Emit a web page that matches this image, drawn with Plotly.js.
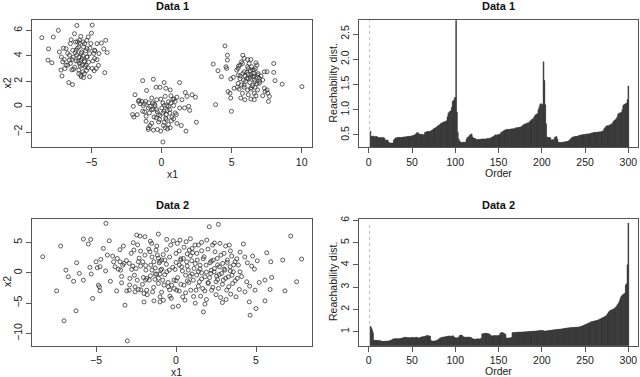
<!DOCTYPE html>
<html>
<head>
<meta charset="utf-8">
<script src="https://cdn.plot.ly/plotly-3.0.1.min.js"></script>
<style>
  html, body { margin: 0; padding: 0; background: #fff; }
  #chart { width: 640px; height: 377px; }
</style>
</head>
<body>
<div id="chart"></div>
<script>
// Data 1: three blobs (x1, x2)
var d1x = [
  // left blob
  -8.54,-7.72,-7.36,-8.06,-8.10,-7.82,-6.04,-4.94,-5.00,-5.23,-4.29,-3.98,-4.12,-3.88,-4.46,-4.50,-4.05,-7.17,-7.10,-6.62,
  -6.35,-5.73,-5.13,-5.90,-7.29,-7.15,-6.81,-6.50,-6.21,-5.85,-5.76,-5.49,-5.32,-5.13,-4.84,-4.77,-6.09,-6.04,-5.95,-5.85,
  -6.57,-6.38,-6.81,-6.69,-6.28,-5.61,-4.94,-4.80,-5.37,-5.66,-5.49,-5.32,-5.73,-5.56,-5.90,-6.33,-6.93,-7.05,-5.76,-5.56,
  -4.75,-5.04,-4.60,-5.32,-6.45,-5.85,-4.77,-4.65,-5.25,-6.57,-6.14,-5.66,
  -5.60,-5.90,-6.10,-5.50,-5.70,-6.30,-5.30,-5.80,-6.00,-5.40,-6.50,-5.20,-6.20,-5.90,-5.50,-6.70,-4.90,-5.10,-6.40,-5.60,
  -6.00,-4.60,-7.00,-6.90,-5.45,-5.75,-6.15,-5.35,
  // middle blob
  -1.34,-0.58,0.19,1.29,-1.89,-1.06,-0.38,-0.10,0.31,0.62,1.70,2.18,2.42,1.82,1.10,0.82,1.46,-2.01,-2.06,-1.97,
  -1.73,-1.41,-1.29,-1.34,-1.10,-0.86,-0.94,-0.62,-0.46,-0.34,-0.22,-0.53,0.02,0.19,0.34,0.58,0.86,0.98,1.06,0.74,
  0.38,0.10,-0.05,-0.34,-0.70,1.94,2.01,1.65,2.49,1.41,1.75,-0.82,-0.94,-0.94,-0.58,-0.29,-0.05,0.10,0.14,0.26,
  0.43,0.62,0.50,1.10,0.34,-0.14,-0.38,-1.10,0.19,0.86,-1.65,-1.53,-1.22,-1.13,-0.82,-0.70,0.50,0.67,0.98,0.26,
  0.67,
  -0.30,0.10,0.40,-0.60,0.20,-0.10,0.60,-0.90,0.50,-0.20,0.70,-1.20,1.30,-1.60,0.30,-0.50,0.90,-0.70,
  // right blob
  4.53,4.70,4.70,3.69,4.03,4.27,4.60,4.65,3.86,4.99,4.94,4.75,4.89,5.18,4.94,5.13,5.37,5.47,5.71,5.80,
  5.61,6.14,6.38,6.26,6.74,6.81,6.14,5.90,6.33,6.57,6.86,7.10,7.34,7.53,8.01,8.01,8.10,8.61,10.02,7.58,
  7.70,7.22,7.34,7.53,7.63,6.62,6.38,6.19,5.95,5.66,5.47,5.71,5.90,6.14,6.38,6.50,6.67,6.86,6.98,7.22,
  6.62,6.33,6.09,5.85,5.61,5.95,6.19,6.50,6.67,5.42,5.54,5.78,6.62,6.74,6.86,6.98,6.43,6.62,5.78,5.47,
  6.20,6.40,6.00,6.60,5.80,6.30,6.90,5.90,6.50,6.10,6.80,5.60,6.40,7.00,5.50,6.20,6.70,5.90,7.40
];
var d1y = [
  5.43,5.48,6.00,4.55,3.66,3.45,6.39,6.42,5.79,5.48,5.01,5.22,4.55,4.26,4.18,3.25,2.68,2.88,2.42,1.90,
  1.74,2.36,2.36,2.88,4.31,3.92,4.57,4.96,5.74,5.22,5.53,4.96,4.57,4.18,4.18,4.44,4.44,4.05,3.58,3.40,
  3.66,3.71,3.27,3.27,2.94,2.75,3.01,2.83,3.27,3.79,3.53,3.92,4.18,4.70,4.70,4.44,3.71,3.53,2.49,2.29,
  4.39,4.96,4.96,5.22,5.27,5.01,3.79,3.01,3.06,4.05,5.09,3.27,
  4.00,3.90,3.60,3.60,4.30,3.90,3.90,3.20,4.60,4.40,3.40,3.50,3.10,2.60,2.60,4.20,3.60,4.60,2.90,5.10,
  5.10,3.70,4.60,3.00,3.15,3.65,4.25,2.85,
  2.05,2.16,1.90,1.90,0.94,1.27,1.53,1.53,1.45,1.32,1.12,0.94,0.75,0.81,0.75,0.60,0.55,0.03,-0.62,-0.81,
  -0.62,0.42,0.08,-0.36,-0.75,-0.49,-0.10,0.29,0.08,-0.23,-0.62,-0.81,-0.10,-0.36,-0.62,-0.23,0.08,-0.49,-0.62,-0.81,
  0.08,0.29,0.60,0.55,0.68,0.03,-0.29,-0.10,-1.22,-1.48,-1.92,-1.48,-1.66,-1.79,-1.84,-1.79,-1.92,-2.78,-1.48,-1.66,
  -1.74,-1.66,-1.40,-1.32,-1.01,-1.01,-0.88,-1.14,-1.22,-0.96,0.42,0.23,0.23,0.42,0.03,-0.23,0.03,0.29,0.42,0.81,
  0.86,
  -0.40,-0.50,-0.30,-0.20,0.10,-0.70,-0.50,0.30,0.40,-1.20,-1.10,-0.40,-0.10,0.50,-0.90,0.20,0.60,-1.30,
  4.78,4.05,3.66,3.35,2.83,2.36,3.14,3.01,0.16,-0.36,0.68,1.19,1.06,1.45,2.18,2.31,2.88,3.01,3.53,4.05,
  3.27,3.71,3.71,3.40,3.45,3.27,3.14,2.75,2.83,2.62,2.49,2.42,2.75,2.75,3.40,2.70,2.05,1.77,1.58,1.06,
  0.81,0.86,1.45,1.32,0.42,0.55,0.60,0.94,0.55,0.68,1.84,1.71,1.53,1.32,1.38,1.64,1.53,1.32,1.84,2.10,
  2.10,2.31,2.23,2.10,2.42,2.42,2.57,2.36,1.97,1.53,1.38,1.06,1.06,0.86,2.31,2.23,3.14,2.88,3.40,2.49,
  2.20,2.50,2.00,2.40,2.60,1.90,2.60,1.70,2.90,2.70,1.80,2.20,1.50,2.00,3.20,3.00,3.00,3.80,1.20
];

// Data 2: one wide cloud
var d2x = [
  -8.33,-7.21,-7.46,-7.00,-6.88,-6.73,-6.21,-6.04,-6.25,-5.79,-5.48,-5.33,-5.79,-5.38,-5.21,-5.00,-4.92,-4.75,-4.79,-4.85,
  -4.75,-4.54,-4.38,-4.29,-4.17,-3.96,-3.81,-3.67,-3.71,-3.50,-3.33,-3.46,-3.40,-3.29,-3.25,-3.19,-3.08,-3.04,-2.92,-2.88,
  -2.92,-2.77,-2.67,-2.63,-2.56,-2.56,-2.50,-2.46,-2.42,-2.35,-2.35,-2.25,-2.21,-2.21,-2.08,-2.04,-2.00,-1.94,-1.94,-1.88,
  -1.83,-1.83,-1.67,-1.63,-1.58,-1.52,-1.50,-1.46,-1.38,-1.38,-1.31,-1.25,-1.21,-1.17,-1.10,-1.10,-1.04,-1.00,-1.00,-0.96,
  -0.90,-0.83,-0.79,-0.75,-0.69,-0.58,-0.58,-0.48,-0.42,-0.38,-0.33,-0.27,-0.17,-0.13,-0.06,0.00,0.04,0.08,0.15,0.21,
  0.25,0.29,0.35,0.42,0.46,0.50,0.56,0.63,0.67,0.71,0.77,0.83,0.88,0.92,0.98,1.04,1.08,1.13,1.19,1.25,
  1.29,1.33,1.40,1.46,1.50,1.54,1.60,1.60,1.67,1.71,1.75,1.81,1.81,1.88,1.92,2.02,2.08,2.13,2.17,2.23,
  2.29,2.33,2.38,2.44,2.50,2.54,2.58,2.65,2.65,2.71,2.75,2.79,2.85,2.92,2.96,3.00,3.06,3.13,3.17,3.21,
  3.27,3.33,3.38,3.42,3.48,3.54,3.58,3.69,3.75,3.83,3.90,3.96,4.00,4.21,4.31,4.42,4.46,4.58,4.63,4.73,
  4.79,4.94,5.00,5.08,5.56,5.56,5.67,5.88,5.92,5.98,6.67,6.81,7.17,7.54,7.85,
  -2.80,-2.60,-2.30,-2.10,-1.90,-1.80,-1.70,-1.60,-1.50,-1.40,-1.30,-1.20,-1.10,-1.00,-0.90,-0.80,-0.70,-0.60,-0.50,-0.40,
  -0.30,-0.20,-0.10,0.00,0.10,0.20,0.30,0.40,0.50,0.60,0.70,0.80,0.90,1.00,1.10,1.20,1.30,1.40,1.50,1.60,
  1.70,1.80,1.90,2.00,2.10,2.20,2.30,2.40,2.50,2.60,2.70,2.80,2.90,3.00,3.10,3.20,3.30,3.40,3.50,3.60,
  3.70,3.80,-3.40,-3.10,-2.90,-3.60,-4.10,-3.90,-4.40,-2.40,-2.00,-1.00,-0.20,0.90,1.60,2.40,3.10,4.10,4.30,4.60,
  4.90,5.20,-5.30,-4.70,-6.40,-1.30,-0.90,0.30,0.60,1.40,2.00,2.60,-0.60,-1.90,0.20,1.00,-2.70,3.40,-0.40,1.90,
  -1.60,2.90,0.00,-2.20,4.00,-3.50,1.20,-1.10,0.70,2.20
];
var d2y = [
  2.64,4.40,-2.97,-7.91,0.44,-0.66,1.65,-0.11,-6.26,5.55,4.73,5.49,-1.21,0.88,-4.23,1.81,0.82,0.99,-2.31,-2.03,
  -2.97,4.01,8.13,2.91,5.27,2.75,0.99,2.36,-2.97,1.81,1.26,0.44,-1.65,4.40,1.54,-5.33,-2.97,-11.21,-2.86,-0.93,
  1.54,0.55,4.95,3.74,-2.31,-3.13,0.71,6.21,-1.21,1.81,-2.75,6.04,3.57,1.10,1.81,-0.77,-3.41,5.93,2.91,0.44,
  -0.93,-2.86,-1.21,3.46,1.26,4.84,0.44,-3.13,1.81,-4.62,-1.10,3.74,-0.22,2.91,6.37,-1.76,1.65,-0.22,-3.96,0.44,
  2.09,-1.21,-4.51,-2.03,2.09,5.49,0.16,-2.31,0.44,-3.85,4.56,-2.03,5.27,-1.21,0.55,3.19,-2.86,4.84,-5.49,1.26,
  5.38,2.09,0.99,-3.96,2.36,-2.03,-4.51,5.11,1.81,-1.32,0.44,3.74,-0.55,-2.86,1.98,3.30,-1.21,0.71,4.56,-2.86,
  -0.38,2.09,4.56,-1.48,1.26,-3.85,3.63,0.00,-2.58,-6.43,2.64,-0.66,-5.16,1.26,5.38,-1.76,7.58,1.65,-0.11,-2.86,
  4.56,2.09,0.16,3.46,-1.48,-0.55,2.36,7.97,-2.58,0.99,4.84,-4.07,-0.11,1.54,-1.21,3.19,0.44,-4.40,-2.86,2.09,
  -0.66,4.56,0.99,-3.52,2.75,-1.76,0.16,1.81,-3.96,-0.93,1.26,-2.75,0.16,4.73,-3.13,-1.48,1.65,-4.78,-6.98,1.10,
  2.75,-2.86,-5.88,1.98,-1.21,-4.62,3.30,-2.75,1.81,-0.77,2.09,-2.97,6.04,-1.48,2.25,
  3.20,-0.40,2.40,-1.90,1.20,-3.60,3.90,-0.50,2.60,-2.40,0.80,4.40,-0.90,1.90,-3.20,3.00,-0.30,1.40,-1.60,2.60,
  -4.20,0.90,-2.60,1.70,-0.80,3.60,-1.90,0.30,4.20,-3.30,1.10,-1.60,2.80,-0.20,-3.90,1.50,3.20,-2.20,0.60,-1.00,
  2.30,-3.00,0.10,3.90,-0.80,1.90,-2.40,0.70,-3.60,1.30,-0.30,2.90,-1.90,0.60,-0.90,1.70,-2.30,3.60,-0.40,1.30,
  -1.30,2.30,-0.60,2.00,-2.00,0.60,-1.40,1.80,0.30,4.60,-4.80,-4.80,-5.60,5.60,5.00,4.90,4.40,-0.60,2.60,-2.20,
  0.60,-1.60,-0.20,2.20,-1.40,-0.20,0.60,2.30,-0.40,0.20,-1.60,-1.10,3.80,-1.20,-3.00,4.00,1.10,0.30,-2.80,-4.40,
  5.20,-4.90,-1.30,-2.80,3.40,3.80,-5.00,2.40,3.10,0.40
];

// Reachability distances in OPTICS order (first point is undefined)
var reach1 = [
  null,0.57,0.47,0.47,0.48,0.47,0.46,0.47,0.47,0.46,
  0.45,0.45,0.44,0.45,0.45,0.44,0.45,0.44,0.40,0.40,
  0.39,0.40,0.36,0.34,0.34,0.34,0.34,0.34,0.40,0.42,
  0.44,0.44,0.45,0.45,0.45,0.45,0.45,0.45,0.45,0.46,
  0.46,0.46,0.46,0.47,0.47,0.47,0.47,0.47,0.48,0.48,
  0.49,0.49,0.50,0.51,0.53,0.55,0.54,0.52,0.52,0.51,
  0.51,0.51,0.50,0.51,0.55,0.56,0.56,0.57,0.57,0.57,
  0.57,0.58,0.59,0.60,0.62,0.63,0.64,0.65,0.66,0.68,
  0.69,0.70,0.72,0.73,0.74,0.75,0.76,0.76,0.77,0.78,
  0.86,0.93,0.95,0.97,0.98,1.05,1.17,1.18,1.22,1.25,
  2.77,0.95,0.55,0.42,0.38,0.36,0.35,0.35,0.35,0.36,
  0.35,0.36,0.42,0.45,0.46,0.47,0.50,0.51,0.52,0.46,
  0.44,0.43,0.43,0.41,0.41,0.41,0.41,0.41,0.41,0.42,
  0.42,0.42,0.42,0.42,0.42,0.42,0.43,0.43,0.43,0.43,
  0.44,0.45,0.46,0.47,0.48,0.50,0.50,0.50,0.50,0.51,
  0.51,0.52,0.55,0.56,0.57,0.58,0.59,0.60,0.60,0.61,
  0.61,0.61,0.61,0.61,0.62,0.62,0.62,0.62,0.63,0.64,
  0.64,0.64,0.65,0.65,0.65,0.66,0.67,0.69,0.70,0.71,
  0.72,0.72,0.73,0.74,0.74,0.76,0.78,0.80,0.81,0.82,
  0.85,0.88,0.90,0.91,0.92,1.00,1.05,1.10,1.12,1.11,
  1.10,1.95,1.58,1.10,0.72,0.46,0.45,0.45,0.45,0.44,
  0.40,0.40,0.41,0.40,0.45,0.46,0.47,0.42,0.36,0.35,
  0.35,0.35,0.35,0.35,0.36,0.36,0.36,0.37,0.37,0.37,
  0.38,0.40,0.42,0.43,0.45,0.46,0.46,0.47,0.47,0.47,
  0.47,0.48,0.49,0.49,0.50,0.50,0.50,0.51,0.51,0.51,
  0.51,0.52,0.52,0.52,0.52,0.53,0.53,0.54,0.54,0.55,
  0.55,0.55,0.55,0.55,0.56,0.56,0.56,0.56,0.57,0.57,
  0.58,0.62,0.64,0.66,0.68,0.68,0.68,0.69,0.70,0.71,
  0.72,0.74,0.77,0.79,0.80,0.82,0.85,0.90,0.93,0.93,
  0.94,0.95,1.00,1.08,1.10,1.11,1.12,1.13,1.20,1.47
];
var reach2 = [
  null,1.24,1.18,1.08,0.95,0.62,0.61,0.61,0.61,0.60,
  0.60,0.60,0.59,0.59,0.57,0.56,0.57,0.57,0.57,0.57,
  0.58,0.58,0.58,0.59,0.60,0.62,0.64,0.67,0.68,0.68,
  0.68,0.68,0.69,0.68,0.68,0.69,0.69,0.70,0.72,0.73,
  0.74,0.75,0.75,0.74,0.73,0.73,0.73,0.72,0.74,0.74,
  0.74,0.73,0.73,0.74,0.75,0.74,0.72,0.72,0.73,0.75,
  0.76,0.77,0.77,0.78,0.79,0.81,0.82,0.83,0.82,0.80,
  0.80,0.60,0.58,0.58,0.58,0.58,0.59,0.60,0.62,0.64,
  0.66,0.70,0.72,0.74,0.75,0.76,0.76,0.77,0.77,0.78,
  0.79,0.80,0.81,0.80,0.79,0.80,0.82,0.80,0.74,0.73,
  0.72,0.72,0.73,0.75,0.82,0.84,0.85,0.83,0.78,0.76,
  0.76,0.75,0.75,0.76,0.76,0.75,0.75,0.74,0.72,0.68,
  0.67,0.67,0.66,0.67,0.67,0.68,0.68,0.67,0.68,0.70,
  0.89,0.91,0.92,0.92,0.92,0.93,0.92,0.91,0.90,0.88,
  0.82,0.82,0.81,0.82,0.82,0.83,0.82,0.82,0.82,0.83,
  0.84,0.93,0.95,0.96,0.95,0.94,0.90,0.88,0.72,0.71,
  0.71,0.72,0.72,0.73,0.74,0.95,0.96,0.96,0.96,0.97,
  0.97,0.97,0.97,0.98,0.98,0.98,0.98,0.99,0.99,0.99,
  0.99,1.00,1.00,1.00,1.01,1.01,1.01,1.01,1.02,1.02,
  1.02,1.03,1.03,1.03,1.04,1.04,1.04,1.05,1.05,1.05,
  1.05,1.04,1.03,1.03,1.03,1.04,1.04,1.05,1.05,1.06,
  1.06,1.07,1.08,1.08,1.09,1.09,1.10,1.10,1.10,1.11,
  1.11,1.12,1.12,1.13,1.13,1.14,1.15,1.15,1.16,1.17,
  1.17,1.18,1.18,1.18,1.19,1.19,1.19,1.19,1.20,1.20,
  1.20,1.21,1.21,1.22,1.23,1.24,1.26,1.28,1.30,1.31,
  1.33,1.35,1.36,1.38,1.40,1.42,1.44,1.45,1.46,1.47,
  1.48,1.49,1.50,1.51,1.52,1.54,1.56,1.58,1.60,1.62,
  1.64,1.66,1.68,1.70,1.74,1.80,1.86,1.92,1.95,1.97,
  1.98,2.00,2.02,2.05,2.08,2.12,2.18,2.24,2.30,2.40,
  2.52,2.60,2.64,2.67,2.70,2.72,3.10,3.15,4.00,5.88
];

var order = [];
for (var i = 1; i <= reach1.length; i++) order.push(i);

function maxOf(a) {
  var m = -Infinity;
  a.forEach(function(v){ if (v !== null && v > m) m = v; });
  return m;
}

var ink = '#222';
var barCol = '#333333';

var traces = [
  {x: d1x, y: d1y, xaxis: 'x', yaxis: 'y', type: 'scatter', mode: 'markers',
   marker: {symbol: 'circle-open', size: 4, color: '#333', line: {width: 0.8, color: '#333'}}, hoverinfo: 'skip'},
  {x: order, y: reach1, xaxis: 'x2', yaxis: 'y2', type: 'bar',
   marker: {color: barCol, line: {width: 0.5, color: barCol}}, hoverinfo: 'skip'},
  {x: [order[0], order[0]], y: [0, maxOf(reach1)], xaxis: 'x2', yaxis: 'y2', type: 'scatter', mode: 'lines',
   line: {color: '#bdbdbd', width: 1, dash: 'dot'}, hoverinfo: 'skip'},
  {x: d2x, y: d2y, xaxis: 'x3', yaxis: 'y3', type: 'scatter', mode: 'markers',
   marker: {symbol: 'circle-open', size: 4, color: '#333', line: {width: 0.8, color: '#333'}}, hoverinfo: 'skip'},
  {x: order, y: reach2, xaxis: 'x4', yaxis: 'y4', type: 'bar',
   marker: {color: barCol, line: {width: 0.5, color: barCol}}, hoverinfo: 'skip'},
  {x: [order[0], order[0]], y: [0, maxOf(reach2)], xaxis: 'x4', yaxis: 'y4', type: 'scatter', mode: 'lines',
   line: {color: '#bdbdbd', width: 1, dash: 'dot'}, hoverinfo: 'skip'}
];

function ax(extra) {
  var a = {
    showline: true, mirror: true, linecolor: '#555', linewidth: 1,
    ticks: 'outside', ticklen: 5, tickcolor: '#555', tickwidth: 1,
    showgrid: false, zeroline: false, fixedrange: true,
    tickfont: {size: 10.5, color: ink}
  };
  for (var k in extra) a[k] = extra[k];
  return a;
}

var W = 640, H = 377;
var topDom = [1 - 147 / H, 1 - 20 / H];
var botDom = [1 - 345.7 / H, 1 - 219 / H];
var leftDom = [32 / W, 312 / W];
var rightDom = [359.3 / W, 638.3 / W];

var layout = {
  width: W, height: H,
  margin: {l: 0, r: 0, t: 0, b: 0},
  paper_bgcolor: '#fff', plot_bgcolor: '#fff',
  showlegend: false,
  bargap: 0.02,
  font: {family: 'Liberation Sans, Arial, Helvetica, sans-serif', size: 10.5, color: ink},
  xaxis: ax({domain: leftDom, anchor: 'y', range: [-9.24, 10.74], tickvals: [-5, 0, 5, 10]}),
  yaxis: ax({domain: topDom, anchor: 'x', range: [-3.17, 6.82], tickvals: [-2, 0, 2, 4, 6], tickangle: -90}),
  xaxis2: ax({domain: rightDom, anchor: 'y2', range: [-10.9, 311.5], tickvals: [0, 50, 100, 150, 200, 250, 300]}),
  yaxis2: ax({domain: topDom, anchor: 'x2', range: [0.26, 2.78], tickvals: [0.5, 1.0, 1.5, 2.0, 2.5], ticktext: ['0.5', '1.0', '1.5', '2.0', '2.5'], tickangle: -90}),
  xaxis3: ax({domain: leftDom, anchor: 'y3', range: [-9.0, 8.5], tickvals: [-5, 0, 5]}),
  yaxis3: ax({domain: botDom, anchor: 'x3', range: [-12.0, 8.85], tickvals: [-10, -5, 0, 5], tickangle: -90}),
  xaxis4: ax({domain: rightDom, anchor: 'y4', range: [-10.9, 311.5], tickvals: [0, 50, 100, 150, 200, 250, 300]}),
  yaxis4: ax({domain: botDom, anchor: 'x4', range: [0.37, 6.06], tickvals: [1, 2, 3, 4, 5, 6], tickangle: -90}),
  annotations: []
};

function label(text, px, py, opts) {
  var a = {
    text: text, xref: 'paper', yref: 'paper', x: px / W, y: 1 - py / H,
    xanchor: 'center', yanchor: 'middle', showarrow: false,
    font: {size: 10.5, color: ink}
  };
  for (var k in opts) a[k] = opts[k];
  layout.annotations.push(a);
}

// panel titles
label('<b>Data 1</b>', 172, 6, {font: {size: 11, color: '#111'}});
label('<b>Data 1</b>', 498.7, 6, {font: {size: 11, color: '#111'}});
label('<b>Data 2</b>', 172, 205, {font: {size: 11, color: '#111'}});
label('<b>Data 2</b>', 498.7, 205, {font: {size: 11, color: '#111'}});
// axis titles
label('x1', 172, 174);
label('x2', 7, 83.5, {textangle: -90});
label('Order', 498.7, 173);
label('Reachability dist.', 333, 83.5, {textangle: -90});
label('x1', 176, 372);
label('x2', 7, 282, {textangle: -90});
label('Order', 498.7, 371);
label('Reachability dist.', 333, 282, {textangle: -90});

Plotly.newPlot('chart', traces, layout, {staticPlot: true, displayModeBar: false});
</script>
</body>
</html>
